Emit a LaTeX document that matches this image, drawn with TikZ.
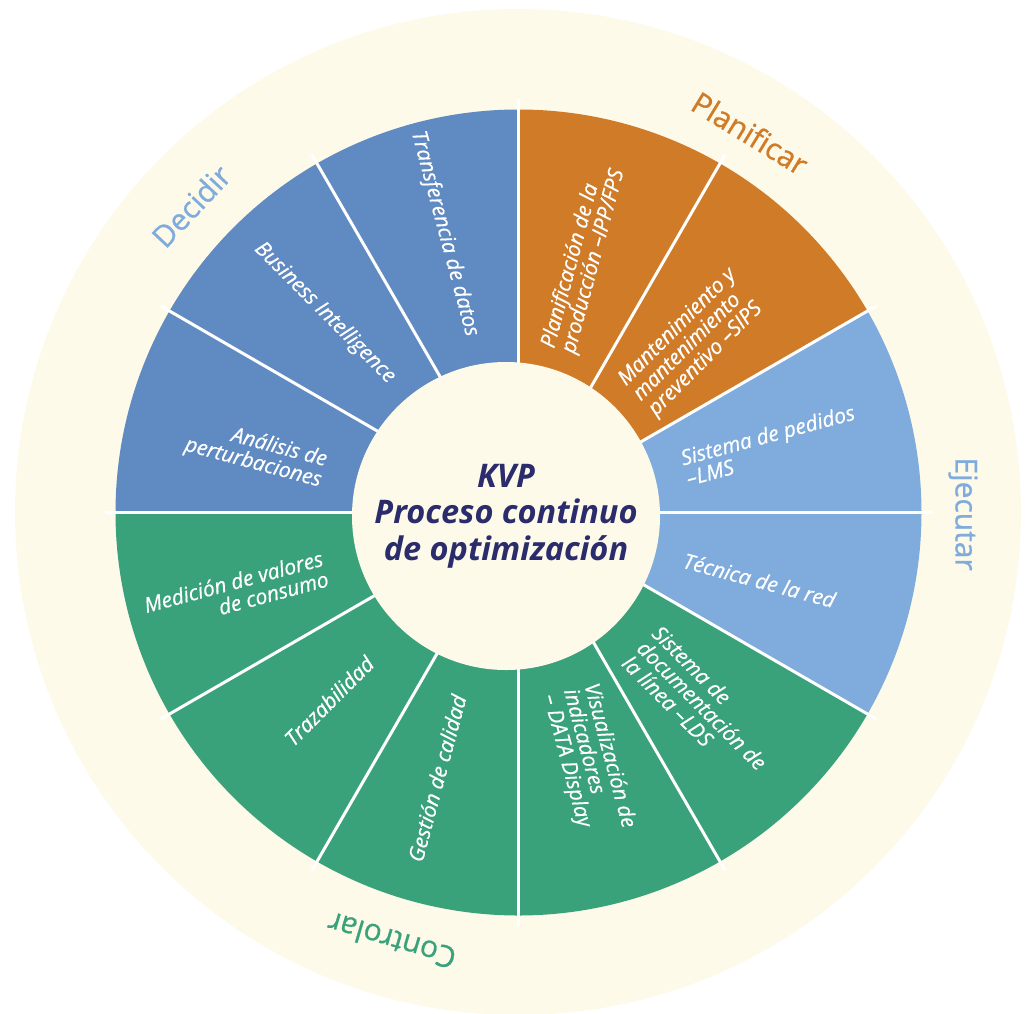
\documentclass[tikz,border=0pt]{standalone}
\usepackage{fontspec}
\setmainfont{Open Sans}
\newfontfamily\segfont{Open Sans}[FakeBold=0.6]
\newfontfamily\outfont{Open Sans}[FakeBold=0.8]
\definecolor{cream}{RGB}{254,250,234}
\definecolor{plan}{RGB}{208,123,39}
\definecolor{deci}{RGB}{96,139,194}
\definecolor{ejec}{RGB}{127,172,221}
\definecolor{ctrl}{RGB}{58,162,123}
\definecolor{navy}{RGB}{42,44,108}
\tikzset{
  seglabel/.style={font=\segfont\fontsize{21}{21.2}\selectfont\itshape, text=white, inner sep=0pt},
  outlabel/.style={font=\outfont\fontsize{30}{32}\selectfont, inner sep=0pt},
  divider/.style={draw=white, line width=3pt},
}
\begin{document}
\begin{tikzpicture}[x=1pt,y=1pt]
\useasboundingbox (-518.5,-500.5) rectangle (513.5,512.5);
\fill[white] (-518.5,-500.5) rectangle (513.5,512.5);
\fill[cream] (-0.5,0.5) circle (503pt);
% segments
\foreach \a/\c in {60/plan,30/plan,0/ejec,-30/ejec,-60/ctrl,-90/ctrl,-120/ctrl,-150/ctrl,-180/ctrl,150/deci,120/deci,90/deci}
  \fill[\c] (0,0) -- (\a:403pt) arc[start angle=\a, end angle=\a+30, radius=403pt] -- cycle;
\foreach \a in {0,30,...,330}
  \draw[divider] (0,0) -- (\a:413pt);
\fill[cream] (-12.5,-3.5) circle (154pt);
% centre
\node[name=kvp, inner sep=0pt, align=center, text=navy, font=\fontsize{32.5}{36.5}\selectfont\bfseries\itshape] at (-12.5,-3.5) {KVP\\Proceso continuo\\de optimización};
% segment labels, right half (reading outward)
\node[seglabel, name=l1, anchor=west, rotate=75, align=left] at (76:167) {Planificación de la\\producción –IPP/FPS};
\node[seglabel, name=l2, anchor=west, rotate=45, align=left] at (44:165) {Mantenimiento y\\mantenimiento\\preventivo –SIPS};
\node[seglabel, name=l3, anchor=west, rotate=15, align=left] at (15:171) {Sistema de pedidos\\–LMS};
\node[seglabel, name=l4, anchor=west, rotate=-15, align=left] at (-16:172) {Técnica de la red};
\node[seglabel, name=l5, anchor=west, rotate=-45, align=left] at (-47:180) {Sistema de\\documentación de\\la línea –LDS};
\node[seglabel, name=l6, anchor=west, rotate=-75, align=left] at (-74:184) {Visualización de\\indicadores\\– DATA Display};
% left half (reading inward)
\node[seglabel, name=l7, anchor=east, rotate=75, align=right] at (252:192) {Gestión de calidad};
\node[seglabel, name=l8, anchor=east, rotate=45, align=right] at (224.8:209) {Trazabilidad};
\node[seglabel, name=l9, anchor=east, rotate=15, align=right] at (196:201) {Medición de valores\\de consumo};
\node[seglabel, name=l10, anchor=east, rotate=-15, align=right] at (168:199) {Análisis de\\perturbaciones};
\node[seglabel, name=l11, anchor=east, rotate=-45, align=right] at (133.7:183) {Business Intelligence};
\node[seglabel, name=l12, anchor=east, rotate=-75, align=right] at (104.8:182.5) {Transferencia de datos};
% outer labels
\node[outlabel, name=oplan, text=plan, rotate=-31.4] at (58.6:444.5) {Planificar};
\node[outlabel, name=oejec, text=ejec, rotate=-90] at (-0.2:444.5) {Ejecutar};
\node[outlabel, name=octrl, text=ctrl, rotate=163.5] at (253.5:447) {Controlar};
\node[outlabel, name=odeci, text=ejec, rotate=46.9] at (136.9:448.5) {Decidir};
\end{tikzpicture}
\end{document}
